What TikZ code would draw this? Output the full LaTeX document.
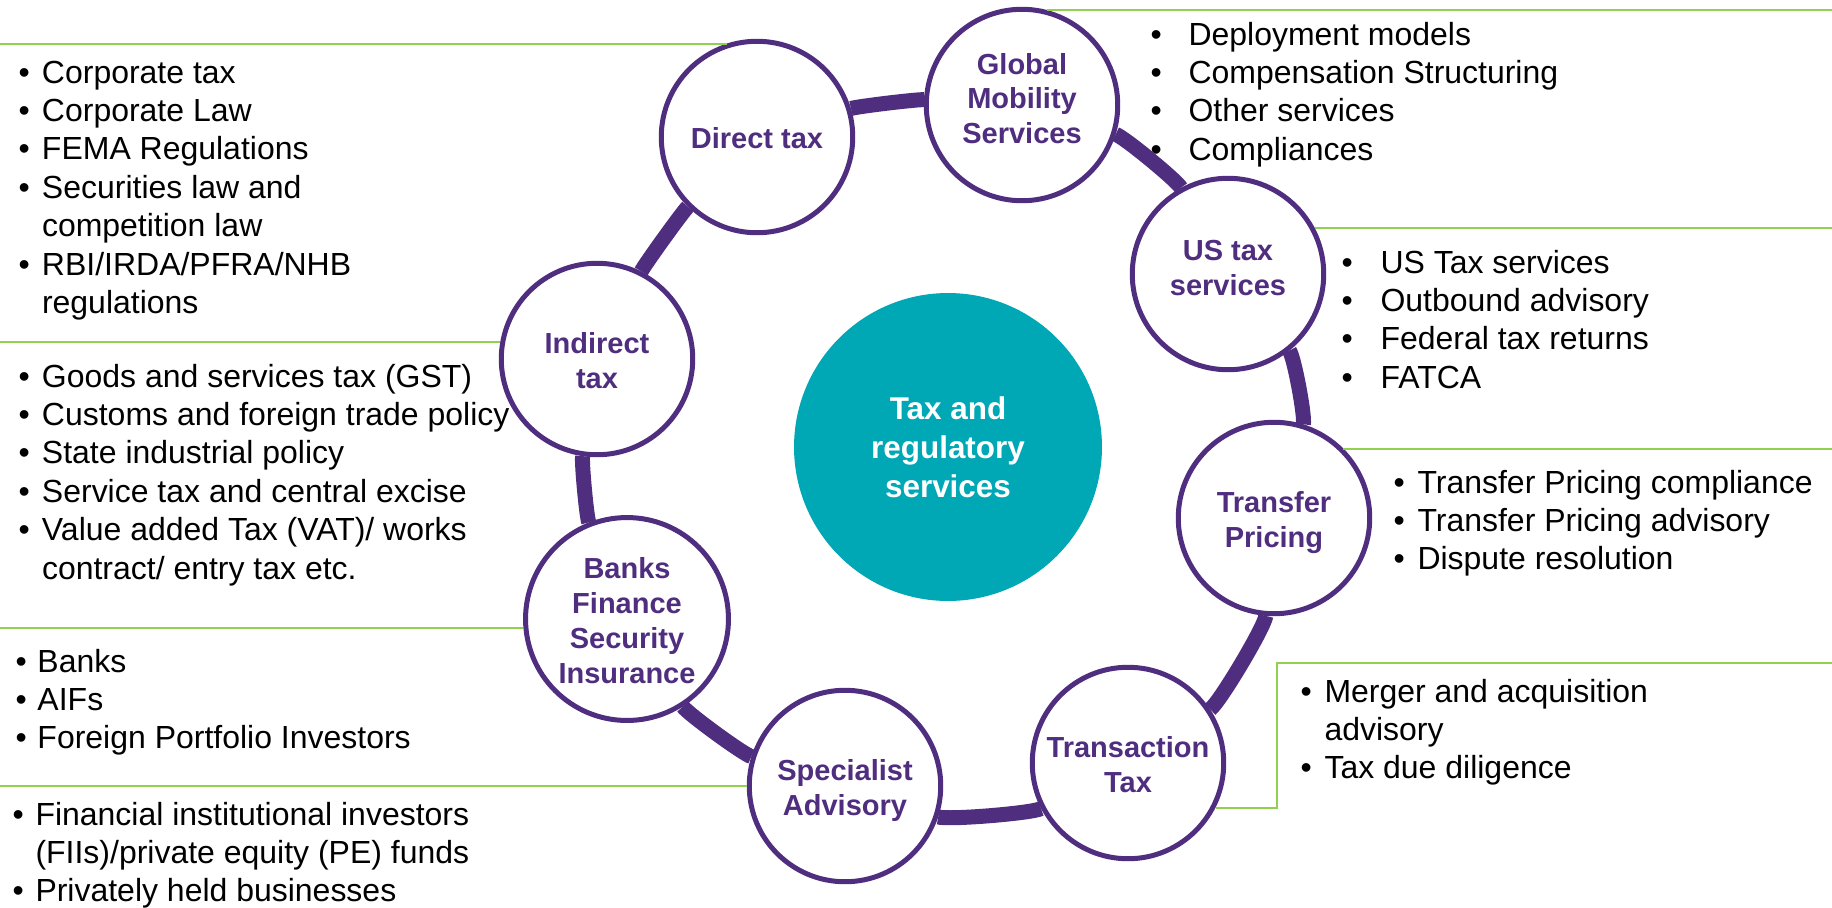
\documentclass[tikz,border=0pt]{standalone}
\usepackage{fontspec}
\setmainfont{Liberation Sans}
\usepackage{tikz}
\usetikzlibrary{arrows}

\definecolor{gtpurple}{HTML}{4F2D7F}
\definecolor{gtteal}{HTML}{00A7B5}
\definecolor{gtgreen}{HTML}{92D050}

\newcommand{\blist}[2]{\begin{tabular}[t]{@{}p{#1}@{}l@{}}#2\end{tabular}}
\newcommand{\clbl}[1]{\begin{tabular}[t]{@{}c@{}}#1\end{tabular}}

\begin{document}
\begin{tikzpicture}[x=0.02cm, y=-0.02cm, semithick]
    \tikzstyle{svc}=[shape=circle, draw=gtpurple, line width=0.1cm, fill=white, minimum size=3.83cm, inner sep=0pt, text=gtpurple, text height=19.6pt, font=\bfseries\fontsize{16.5}{19.9}\selectfont]
    \tikzstyle{hub}=[shape=circle, fill=gtteal, draw=none, minimum size=6.16cm, inner sep=0pt, text=white, text height=19.75pt, font=\bfseries\fontsize{17.9}{22.2}\selectfont]
    \tikzstyle{txt}=[inner sep=0pt, anchor=base west, text=black, font=\fontsize{18.2}{21.9}\selectfont]
    \tikzstyle{ring}=[draw=gtpurple, line width=0.3cm, looseness=0.25]
    \tikzstyle{gline}=[draw=gtgreen, line width=0.04cm]

    \useasboundingbox (0,0) rectangle (1832,907);
    \coordinate (l0) at (0,0);
    \coordinate (r0) at (1832,0);

    \node[hub]    (s0) at (948, 447)      {\clbl{Tax and\\regulatory\\services}};

    \node[svc]  (s1) at (757,137){\clbl{Direct tax}};
    \node[svc, text height=10.5pt]  (s2) at (1022,105){\clbl{Global\\Mobility\\Services}};
    \node[svc, text height=10.5pt]  (s3) at (1228,274){\clbl{US tax\\services}};
    \node[svc]  (s4) at (1274,518){\clbl{Transfer\\Pricing}};
    \node[svc]  (s5) at (1128,763){\clbl{Transaction\\Tax}};
    \node[svc]  (s6) at (845,786){\clbl{Specialist\\Advisory}};
    \node[svc]  (s7) at (627,619){\clbl{Banks\\Finance\\Security\\Insurance}};
    \node[svc]  (s8) at (597,359){\clbl{Indirect\\tax}};

    % left side lists
    \node[txt]  (t1) at (18,83){\blist{0.47cm}{\textbullet & Corporate tax\\ \textbullet & Corporate Law\\ \textbullet & FEMA Regulations\\ \textbullet & Securities law and\\ & competition law\\ \textbullet & RBI/IRDA/PFRA/NHB\\ & regulations}};
    \node[txt]  (t8) at (18,387){\blist{0.47cm}{\textbullet & Goods and services tax (GST)\\ \textbullet & Customs and foreign trade policy\\ \textbullet & State industrial policy\\ \textbullet & Service tax and central excise\\ \textbullet & Value added Tax (VAT)/ works\\ & contract/ entry tax etc.}};
    \node[txt]  (t7) at (15,672){\blist{0.44cm}{\textbullet & Banks\\ \textbullet & AIFs\\ \textbullet & Foreign Portfolio Investors}};
    \node[txt]  (t6) at (12,825){\blist{0.46cm}{\textbullet & Financial institutional investors\\ & (FIIs)/private equity (PE) funds\\ \textbullet & Privately held businesses}};

    % right side lists
    \node[txt]  (t2) at (1150,45){\blist{0.76cm}{\textbullet & Deployment models\\ \textbullet & Compensation Structuring\\ \textbullet & Other services\\ \textbullet & Compliances}};
    \node[txt]  (t3) at (1341,273){\blist{0.78cm}{\textbullet & US Tax services\\ \textbullet & Outbound advisory\\ \textbullet & Federal tax returns\\ \textbullet & FATCA}};
    \node[txt]  (t4) at (1393,493){\blist{0.48cm}{\textbullet & Transfer Pricing compliance\\ \textbullet & Transfer Pricing advisory\\ \textbullet & Dispute resolution}};
    \node[txt]  (t5) at (1300,702){\blist{0.48cm}{\textbullet & Merger and acquisition\\ & advisory\\ \textbullet & Tax due diligence}};

    \coordinate (c5) at (1277,663);

    \draw[gline] (s1.108) -- (s1.108 -| l0);
    \draw[gline] (s8.170) -- (s8.170 -| l0);
    \draw[gline] (s7.185) -- (s7.185 -| l0);
    \draw[gline] (s6.180) -- (s6.180 -| l0);
    \draw[gline] (s2.75) -- (s2.75 -| r0);
    \draw[gline] (s3.28) -- (s3.28 -| r0);
    \draw[gline] (s4.45) -- (s4.45 -| r0);
    \draw[gline] (s5.333) -| (c5) -- (c5 -| r0);

    \path
    (s1)   edge[ring, bend left=10]  node{} (s2)
    (s2)   edge[ring, bend left=22]  node{} (s3)
    (s3)   edge[ring, bend left=28]  node{} (s4)
    (s4)   edge[ring, bend left=26]  node{} (s5)
    (s5)   edge[ring, bend left=23]  node{} (s6)
    (s6)   edge[ring, bend left=20]  node{} (s7)
    (s7)   edge[ring, bend left=15]  node{} (s8)
    (s8)   edge[ring, bend left=9]  node{} (s1)
            ;

\end{tikzpicture}
\end{document}
